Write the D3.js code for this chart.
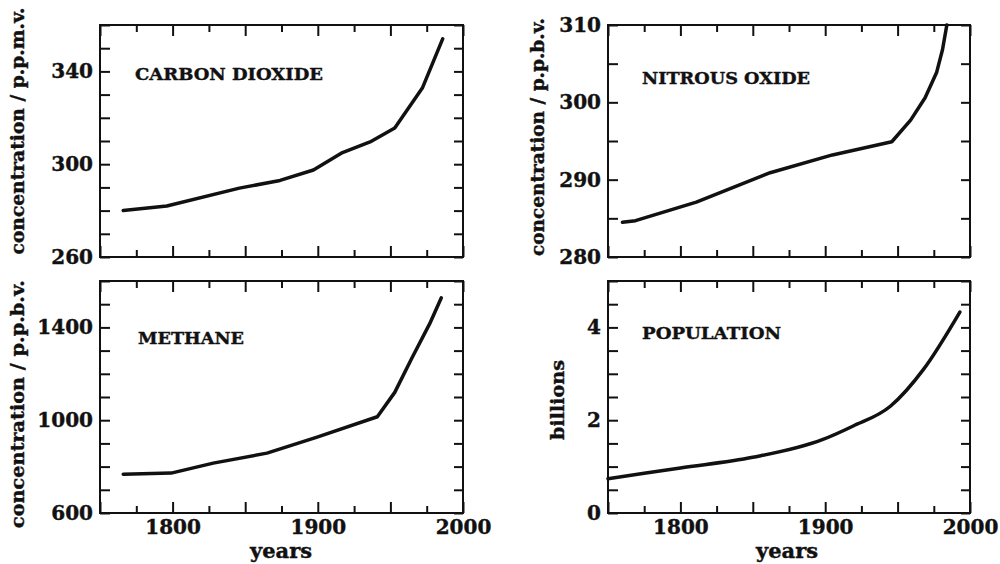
<!DOCTYPE html>
<html>
<head>
<meta charset="utf-8">
<script src="https://cdn.jsdelivr.net/npm/d3@7"></script>
<style>
  body { margin: 0; background: #fff; }
  svg { display: block; }
  .tick text { font-family: "DejaVu Serif", serif; font-weight: bold; font-size: 20px; fill: #111; stroke: #111; stroke-width: 0.4; }
  .tick line { stroke: #111; stroke-width: 2; }
  .frame { fill: none; stroke: #111; stroke-width: 2; }
  .curve { fill: none; stroke: #111; stroke-width: 3.5; stroke-linejoin: round; stroke-linecap: round; }
  .lbl { font-family: "DejaVu Serif", serif; font-weight: bold; fill: #111; stroke: #111; stroke-width: 0.4; }
</style>
</head>
<body>
<svg id="chart" width="1000" height="564"></svg>
<script>
// values
const co2Years = [1766, 1796, 1846, 1874, 1897, 1917, 1936, 1953, 1972, 1986];
const co2Values = [280, 282, 289.7, 293, 297.5, 305, 309.6, 315.6, 332.8, 354];

const n2oYears = [1760, 1769, 1811, 1862, 1905, 1946, 1959, 1969, 1977, 1981, 1984];
const n2oValues = [284.5, 284.7, 287.1, 290.9, 293.2, 294.9, 297.7, 300.6, 303.9, 306.8, 310];

const ch4Years = [1766, 1799, 1828, 1865, 1899, 1941, 1953, 1965, 1977, 1985];
const ch4Values = [767, 772, 815, 858, 926, 1015, 1120, 1270, 1415, 1527];

const popYears = [1750, 1800, 1850, 1898, 1919, 1945, 1968, 1993];
const popValues = [0.74, 0.97, 1.2, 1.58, 1.87, 2.3, 3.1, 4.33];

const yearTicks = [1750, 1775, 1800, 1825, 1850, 1875, 1900, 1925, 1950, 1975, 2000];
const yearLabels = [1800, 1900, 2000];

const co2Ticks = [260, 270, 280, 290, 300, 310, 320, 330, 340, 350, 360];
const co2Labels = [260, 300, 340];
const n2oTicks = [280, 285, 290, 295, 300, 305, 310];
const n2oLabels = [280, 290, 300, 310];
const ch4Ticks = [600, 700, 800, 900, 1000, 1100, 1200, 1300, 1400, 1500, 1600];
const ch4Labels = [600, 1000, 1400];
const popTicks = [0, 0.5, 1, 1.5, 2, 2.5, 3, 3.5, 4, 4.5, 5];
const popLabels = [0, 2, 4];

const svg = d3.select("#chart");

const panels = [
  {title: "CARBON DIOXIDE", titleW: 188, tx: 135, ty: 80, box: [100, 25, 463, 257], yDom: [260, 360],
   years: co2Years, values: co2Values, ticks: co2Ticks, labels: co2Labels, curve: d3.curveLinear, xLabels: false},
  {title: "NITROUS OXIDE", titleW: 168, tx: 642, ty: 84, box: [608, 25, 970, 257], yDom: [280, 310],
   years: n2oYears, values: n2oValues, ticks: n2oTicks, labels: n2oLabels, curve: d3.curveLinear, xLabels: false},
  {title: "METHANE", titleW: 106, tx: 138, ty: 344, box: [100, 281, 463, 513], yDom: [600, 1600],
   years: ch4Years, values: ch4Values, ticks: ch4Ticks, labels: ch4Labels, curve: d3.curveLinear, xLabels: true},
  {title: "POPULATION", titleW: 139, tx: 642, ty: 339, box: [608, 281, 970, 513], yDom: [0, 5],
   years: popYears, values: popValues, ticks: popTicks, labels: popLabels, curve: d3.curveMonotoneX, xLabels: true}
];

panels.forEach(p => {
  const [x0, y0, x1, y1] = p.box;
  const x = d3.scaleLinear().domain([1750, 2000]).range([x0, x1]);
  const y = d3.scaleLinear().domain(p.yDom).range([y1, y0]);

  const fmtY = d => p.labels.includes(d) ? d : "";
  const fmtX = d => (p.xLabels && yearLabels.includes(d)) ? d : "";

  // left axis with labels
  svg.append("g").attr("transform", `translate(${x0},0)`)
    .call(d3.axisLeft(y).tickValues(p.ticks).tickSize(-10).tickPadding(7).tickFormat(fmtY))
    .call(g => g.select(".domain").remove());
  // right axis
  svg.append("g").attr("transform", `translate(${x1},0)`)
    .call(d3.axisRight(y).tickValues(p.ticks).tickSize(-9).tickFormat(""))
    .call(g => g.select(".domain").remove());
  // bottom axis
  const bottom = svg.append("g").attr("transform", `translate(0,${y1})`)
    .call(d3.axisBottom(x).tickValues(yearTicks).tickSize(-7).tickPadding(7).tickFormat(fmtX))
    .call(g => g.select(".domain").remove());
  bottom.selectAll(".tick line").attr("y2", d => d % 50 === 0 ? -11 : -7);
  // top axis
  const top = svg.append("g").attr("transform", `translate(0,${y0})`)
    .call(d3.axisTop(x).tickValues(yearTicks).tickSize(-7).tickFormat(""))
    .call(g => g.select(".domain").remove());
  top.selectAll(".tick line").attr("y2", d => d % 50 === 0 ? 11 : 7);

  svg.append("rect").attr("class", "frame")
    .attr("x", x0).attr("y", y0).attr("width", x1 - x0).attr("height", y1 - y0);

  const line = d3.line().x(d => x(d[0])).y(d => y(d[1])).curve(p.curve);
  svg.append("path").attr("class", "curve")
    .attr("d", line(p.years.map((yr, i) => [yr, p.values[i]])));

  svg.append("text").attr("class", "lbl")
    .attr("x", p.tx).attr("y", p.ty)
    .attr("font-size", 17)
    .attr("textLength", p.titleW).attr("lengthAdjust", "spacingAndGlyphs")
    .text(p.title);
});

// axis titles
function vLabel(cx, cy, len, txt) {
  svg.append("text").attr("class", "lbl")
    .attr("transform", `translate(${cx},${cy}) rotate(-90)`)
    .attr("text-anchor", "middle").attr("dy", "0.35em")
    .attr("font-size", 18)
    .attr("textLength", len).attr("lengthAdjust", "spacingAndGlyphs")
    .text(txt);
}
vLabel(18, 131, 247, "concentration / p.p.m.v.");
vLabel(538, 137, 238, "concentration / p.p.b.v.");
vLabel(18, 404, 248, "concentration / p.p.b.v.");
vLabel(558, 400, 80, "billions");

[281, 787].forEach(cx => {
  svg.append("text").attr("class", "lbl")
    .attr("x", cx).attr("y", 558).attr("text-anchor", "middle")
    .attr("font-size", 20)
    .attr("textLength", 62).attr("lengthAdjust", "spacingAndGlyphs")
    .text("years");
});
</script>
</body>
</html>
